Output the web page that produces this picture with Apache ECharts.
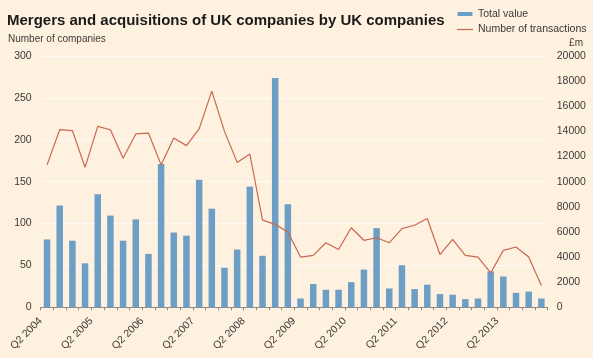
<!DOCTYPE html>
<html>
<head>
<meta charset="utf-8">
<script src="https://cdn.jsdelivr.net/npm/echarts@6/dist/echarts.min.js"></script>
<style>
html,body{margin:0;padding:0;background:#fff1e0;}
#chart{width:593px;height:358px;}
</style>
</head>
<body>
<div id="chart"></div>
<script>
const categories = [
  'Q2 2004','Q3 2004','Q4 2004','Q1 2005',
  'Q2 2005','Q3 2005','Q4 2005','Q1 2006',
  'Q2 2006','Q3 2006','Q4 2006','Q1 2007',
  'Q2 2007','Q3 2007','Q4 2007','Q1 2008',
  'Q2 2008','Q3 2008','Q4 2008','Q1 2009',
  'Q2 2009','Q3 2009','Q4 2009','Q1 2010',
  'Q2 2010','Q3 2010','Q4 2010','Q1 2011',
  'Q2 2011','Q3 2011','Q4 2011','Q1 2012',
  'Q2 2012','Q3 2012','Q4 2012','Q1 2013',
  'Q2 2013','Q3 2013','Q4 2013','Q1 2014'
];
// Total value, £m (right axis)
const totalValue = [
  5400, 8100, 5300, 3500,
  9000, 7300, 5300, 7000,
  4250, 11400, 5950, 5700,
  10150, 7850, 3150, 4600,
  9600, 4100, 18250, 8200,
  700, 1850, 1400, 1400,
  2000, 3000, 6300, 1500,
  3350, 1450, 1800, 1050,
  1000, 650, 700, 2850,
  2450, 1150, 1250, 700
];
// Number of transactions (left axis)
const transactions = [
  170, 212, 211, 167,
  216, 212, 178, 207,
  208, 170, 202, 193,
  213, 258, 210, 173,
  183, 104, 99, 90,
  60, 62, 77, 69,
  95, 80, 83, 77,
  94, 98, 106, 63,
  81, 62, 60, 41,
  68, 72, 60, 26
];
const xTickLabels = ['Q2 2004','Q2 2005','Q2 2006','Q2 2007','Q2 2008','Q2 2009','Q2 2010','Q2 2011','Q2 2012','Q2 2013'];
const leftTicks = {min: 0, max: 300, interval: 50};
const rightTicks = {min: 0, max: 20000, interval: 2000};

const FONT = '"Liberation Sans", Arial, sans-serif';
const TXT = '#3d3935';

const chart = echarts.init(document.getElementById('chart'), null, {renderer: 'canvas'});
chart.setOption({
  backgroundColor: '#fff1e0',
  animation: false,
  title: [
    {text: 'Mergers and acquisitions of UK companies by UK companies', left: 7, top: 13,
     textStyle: {fontFamily: FONT, fontSize: 15, fontWeight: 'bold', color: '#1a1a1a'}, padding: 0},
    {text: 'Number of companies', left: 8, top: 34,
     textStyle: {fontFamily: FONT, fontSize: 10, fontWeight: 'normal', color: TXT}, padding: 0},
    {text: '£m', right: 10, top: 38,
     textStyle: {fontFamily: FONT, fontSize: 10, fontWeight: 'normal', color: TXT}, padding: 0}
  ],
  legend: {
    orient: 'vertical', left: 457, top: 8, padding: 0,
    itemWidth: 16, itemHeight: 4, itemGap: 3.5,
    textStyle: {fontFamily: FONT, fontSize: 10.5, color: TXT, lineHeight: 12},
    data: [
      {name: 'Total value', icon: 'path://M0,0h16v4.3h-16z'},
      {name: 'Number of transactions', icon: 'path://M0,0h16v1.2h-16z'}
    ]
  },
  grid: {left: 40.7, right: 45.3, top: 56, bottom: 50.7, containLabel: false},
  xAxis: [
    {type: 'category', data: categories, boundaryGap: true,
     axisLine: {lineStyle: {color: '#8f8a85', width: 1}},
     axisTick: {show: true, length: 3, lineStyle: {color: '#8f8a85'}, interval: 0},
     axisLabel: {show: false}, splitLine: {show: false}},
    {type: 'value', min: 0, max: categories.length, interval: 4, position: 'bottom',
     axisLine: {show: false}, axisTick: {show: false}, splitLine: {show: false},
     axisLabel: {rotate: 45, margin: 12, fontFamily: FONT, fontSize: 10.5, color: TXT,
       formatter: v => xTickLabels[v / 4] || ''}}
  ],
  yAxis: [
    {type: 'value', position: 'left', min: leftTicks.min, max: leftTicks.max, interval: leftTicks.interval,
     axisLine: {show: false}, axisTick: {show: false},
     axisLabel: {margin: 9, fontFamily: FONT, fontSize: 10.5, color: TXT, formatter: v => String(v)},
     splitLine: {show: true, lineStyle: {color: '#fffaf5', width: 1}}},
    {type: 'value', position: 'right', min: rightTicks.min, max: rightTicks.max, interval: rightTicks.interval,
     axisLine: {show: false}, axisTick: {show: false},
     axisLabel: {margin: 9, fontFamily: FONT, fontSize: 10.5, color: TXT, formatter: v => String(v)},
     splitLine: {show: false}}
  ],
  series: [
    {name: 'Total value', type: 'bar', xAxisIndex: 0, yAxisIndex: 1, data: totalValue,
     barWidth: 6.5, itemStyle: {color: '#6c9ec6'}, z: 2},
    {name: 'Number of transactions', type: 'line', xAxisIndex: 0, yAxisIndex: 0, data: transactions,
     symbol: 'none', lineStyle: {color: '#c9674f', width: 1.2}, itemStyle: {color: '#c9674f'}, z: 3}
  ]
});
</script>
</body>
</html>
